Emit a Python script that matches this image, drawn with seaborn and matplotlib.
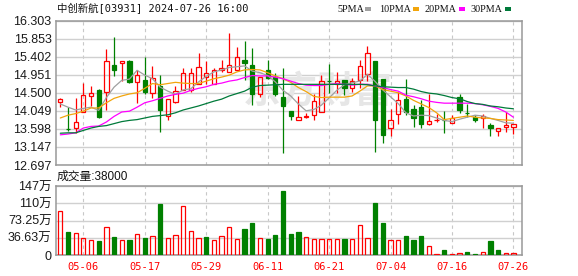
import matplotlib
matplotlib.use("Agg")
import matplotlib.pyplot as plt
import seaborn as sns
import pandas as pd
from matplotlib.patches import Rectangle

# ---------------- data ----------------
dates = ["04-30", "05-02", "05-03", "05-06", "05-07", "05-08", "05-09", "05-10", "05-13", "05-14",
         "05-16", "05-17", "05-20", "05-21", "05-22", "05-23", "05-24", "05-27", "05-28", "05-29",
         "05-30", "05-31", "06-03", "06-04", "06-05", "06-06", "06-07", "06-11", "06-12", "06-13",
         "06-14", "06-17", "06-18", "06-19", "06-20", "06-21", "06-24", "06-25", "06-26", "06-27",
         "06-28", "07-02", "07-03", "07-04", "07-05", "07-08", "07-09", "07-10", "07-11", "07-12",
         "07-15", "07-16", "07-17", "07-18", "07-19", "07-22", "07-23", "07-24", "07-25", "07-26"]

open_ = [14.27, 13.60, 13.62, 14.02, 14.41, 14.58, 14.53, 15.19, 15.23, 15.28,
         14.77, 14.81, 14.49, 14.67, 13.93, 14.27, 14.57, 14.58, 14.73, 14.89,
         14.73, 15.08, 15.02, 15.08, 15.31, 15.19, 14.46, 15.07, 14.90, 14.40,
         14.04, 13.82, 13.90, 13.94, 14.02, 14.80, 14.73, 14.81, 14.61, 14.82,
         14.96, 15.29, 14.84, 13.62, 13.96, 14.35, 14.09, 14.14, 13.71, 13.815,
         13.83, 13.74, 14.40, 14.00, 13.89, 13.86, 13.70, 13.54, 13.64, 13.64]
high = [14.38, 14.14, 14.36, 14.75, 14.67, 14.59, 15.58, 15.88, 15.30, 15.31,
        15.06, 15.39, 15.18, 14.94, 14.35, 14.67, 15.11, 15.13, 15.48, 15.28,
        15.11, 15.31, 16.00, 15.63, 15.78, 15.61, 14.90, 15.31, 15.00, 15.11,
        14.05, 14.41, 14.00, 14.46, 14.94, 15.21, 15.03, 14.81, 14.88, 15.31,
        15.67, 15.30, 14.85, 14.10, 14.53, 14.85, 14.19, 14.33, 14.48, 13.96,
        14.04, 13.94, 14.46, 14.23, 13.94, 13.96, 13.74, 13.62, 14.02, 13.72]
low = [14.14, 13.54, 13.50, 14.01, 14.17, 13.87, 14.08, 14.92, 14.79, 14.74,
       14.25, 14.46, 14.38, 13.51, 13.83, 14.24, 14.56, 14.53, 14.72, 14.73,
       14.71, 15.03, 15.01, 15.08, 14.81, 14.19, 14.40, 14.85, 14.41, 13.00,
       13.82, 13.81, 13.86, 13.83, 14.01, 14.50, 14.50, 14.44, 14.53, 14.63,
       14.79, 13.01, 13.24, 13.42, 13.71, 13.94, 13.64, 13.61, 13.70, 13.76,
       13.50, 13.735, 14.00, 13.90, 13.77, 13.62, 13.41, 13.42, 13.52, 13.48]
close = [14.34, 13.585, 13.77, 14.44, 14.49, 13.89, 15.29, 15.08, 15.29, 14.77,
         14.94, 14.51, 14.88, 14.08, 14.34, 14.54, 14.99, 15.00, 15.14, 15.00,
         15.07, 15.13, 15.19, 15.38, 15.24, 14.48, 14.89, 14.88, 14.48, 14.16,
         13.93, 13.89, 13.91, 14.29, 14.79, 14.79, 14.79, 14.63, 14.79, 15.17,
         15.50, 13.82, 13.44, 13.81, 14.33, 14.01, 13.87, 13.72, 13.79, 13.825,
         13.82, 13.87, 14.08, 13.99, 13.82, 13.92, 13.63, 13.62, 13.70, 13.72]

ma5 = [14.22, 14.14, 14.07, 14.11, 14.14, 14.06, 14.38, 14.64, 14.81, 14.84,
       15.06, 14.94, 14.85, 14.64, 14.54, 14.46, 14.57, 14.60, 14.77, 14.91,
       15.02, 15.07, 15.13, 15.15, 15.17, 15.04, 15.00, 14.93, 14.77, 14.56,
       14.42, 14.22, 14.05, 14.08, 14.19, 14.37, 14.56, 14.70, 14.75, 14.79,
       14.96, 14.78, 14.57, 14.40, 14.23, 14.00, 13.92, 13.94, 13.93, 13.87,
       13.81, 13.78, 13.84, 13.89, 13.94, 13.92, 13.86, 13.81, 13.75, 13.74]
ma10 = [13.87, 13.94, 13.98, 14.04, 14.12, 14.12, 14.25, 14.36, 14.42, 14.47,
        14.50, 14.61, 14.73, 14.70, 14.73, 14.76, 14.74, 14.73, 14.73, 14.79,
        14.85, 14.89, 14.94, 15.02, 15.07, 15.08, 15.07, 15.00, 14.92, 14.85,
        14.76, 14.63, 14.53, 14.41, 14.38, 14.39, 14.39, 14.39, 14.42, 14.54,
        14.67, 14.67, 14.58, 14.54, 14.50, 14.42, 14.31, 14.22, 14.13, 14.00,
        13.83, 13.86, 13.89, 13.92, 13.89, 13.87, 13.86, 13.83, 13.82, 13.81]
ma20 = [13.45, 13.47, 13.50, 13.62, 13.66, 13.67, 13.77, 13.91, 14.02, 14.04,
        14.14, 14.25, 14.30, 14.36, 14.42, 14.46, 14.49, 14.56, 14.61, 14.65,
        14.71, 14.74, 14.79, 14.82, 14.88, 14.93, 14.92, 14.92, 14.89, 14.85,
        14.79, 14.73, 14.69, 14.68, 14.68, 14.71, 14.73, 14.71, 14.69, 14.71,
        14.71, 14.67, 14.63, 14.58, 14.54, 14.44, 14.40, 14.35, 14.29, 14.26,
        14.24, 14.24, 14.24, 14.24, 14.23, 14.20, 14.16, 14.11, 14.02, 13.89]
ma30 = [13.49, 13.50, 13.50, 13.56, 13.62, 13.66, 13.68, 13.73, 13.78, 13.81,
        13.83, 13.87, 13.91, 13.93, 13.95, 14.00, 14.07, 14.12, 14.17, 14.23,
        14.29, 14.34, 14.42, 14.48, 14.54, 14.64, 14.68, 14.69, 14.70, 14.71,
        14.71, 14.71, 14.71, 14.71, 14.71, 14.71, 14.71, 14.71, 14.71, 14.71,
        14.70, 14.67, 14.65, 14.64, 14.63, 14.63, 14.59, 14.53, 14.49, 14.47,
        14.43, 14.38, 14.35, 14.28, 14.23, 14.21, 14.17, 14.15, 14.12, 14.10]

# volume in 万 (10k shares)
volume = [93.4, 49.5, 46.0, 35.4, 31.8, 29.7, 58.7, 38.2, 31.8, 31.8,
          44.6, 36.1, 39.6, 108.3, 35.4, 41.8, 105.4, 51.0, 35.4, 38.2,
          31.8, 39.6, 59.4, 33.3, 55.2, 67.9, 35.4, 34.0, 42.5, 135.9,
          44.6, 48.8, 37.5, 33.3, 34.7, 34.7, 34.7, 33.3, 34.7, 63.0,
          35.4, 110.4, 67.9, 31.1, 31.1, 39.6, 31.8, 40.3, 18.4, 2.5,
          10.6, 2.5, 3.5, 6.4, 2.0, 5.7, 29.7, 10.6, 3.5, 3.8]
vol_dir = list("RGRRRGRGRGRGRGRRRRRGRRRRGGRGGGGGRRRRRGRRRGGRRGGGRRGRRGGRGGRR")

x_tick_labels = ["05-06", "05-17", "05-29", "06-11", "06-21", "07-04", "07-16", "07-26"]
price_ticks = [16.303, 15.853, 15.402, 14.951, 14.500, 14.049, 13.598, 13.147, 12.697]
vol_ticks = [0, 36.63, 73.25, 110, 147]
vol_tick_labels = ["0", "36.63万", "73.25万", "110万", "147万"]
ma_names = ["5PMA", "10PMA", "20PMA", "30PMA"]
ma_colors = ["#a0a0a0", "#f2a50c", "#ff00ff", "#007a3a"]

# ---------------- style ----------------
sns.set_style("white")
plt.rcParams["font.family"] = ["Liberation Sans", "Noto Sans CJK SC", "DejaVu Sans"]

RED = "#ff0000"
GREEN = "#008000"
W, H = 578, 276
fig = plt.figure(figsize=(W / 100, H / 100), dpi=100)
fig.patch.set_facecolor("white")

left, right = 55.7, 522.3
axp = fig.add_axes([left / W, 1 - 165 / H, (right - left) / W, (165 - 20.5) / H])
axv = fig.add_axes([left / W, 1 - 255 / H, (right - left) / W, 69 / H])

n = len(dates)
idx = list(range(n))
tick_pos = [dates.index(d) for d in x_tick_labels]

# watermark
axp.text(318 / W, 1 - 92 / H, "东方财富", transform=fig.transFigure, ha="center", va="center",
         fontsize=27, fontweight="bold", color="#e6e6e6", family=["Noto Sans CJK SC"], zorder=0.6)

# candles
BW = 0.56
for i in idx:
    o, h, l, c = open_[i], high[i], low[i], close[i]
    if c >= o:
        top, bot = c, o
        axp.vlines(i, top, h, color=RED, lw=0.9, zorder=3)
        axp.vlines(i, l, bot, color=RED, lw=0.9, zorder=3)
        axp.bar(i, max(top - bot, 0.004), bottom=bot, width=BW, facecolor="none",
                edgecolor=RED, linewidth=0.9, zorder=3)
    else:
        axp.vlines(i, l, h, color=GREEN, lw=0.9, zorder=3)
        axp.bar(i, max(o - c, 0.004), bottom=c, width=BW, facecolor=GREEN,
                edgecolor=GREEN, linewidth=0.9, zorder=3)

# moving averages via seaborn
ma_df = pd.DataFrame({
    "idx": idx * 4,
    "value": ma5 + ma10 + ma20 + ma30,
    "ma": sum([[nm] * n for nm in ma_names], []),
})
sns.lineplot(data=ma_df, x="idx", y="value", hue="ma", palette=dict(zip(ma_names, ma_colors)),
             hue_order=ma_names, linewidth=0.9, legend=False, ax=axp, zorder=4)

# volume
for i in idx:
    if vol_dir[i] == "R":
        axv.bar(i, volume[i], width=BW, facecolor="none", edgecolor=RED, linewidth=0.9, zorder=3)
    else:
        axv.bar(i, volume[i], width=BW, facecolor=GREEN, edgecolor=GREEN, linewidth=0.9, zorder=3)

for ax in (axp, axv):
    ax.set_xlim(-0.6, 60.16)
    ax.set_xticks(tick_pos)
    ax.set_xlabel("")
    ax.set_ylabel("")
    ax.set_axisbelow(True)
    ax.grid(axis="x", color="#c8c8c8", linestyle=(0, (3, 3)), linewidth=0.8)
    ax.grid(axis="y", color="#d0d0d0", linestyle="-", linewidth=1.0)
    for s in ax.spines.values():
        s.set_color("#999999")
        s.set_linewidth(1.1)
        s.set_visible(True)
    ax.tick_params(length=0, pad=3, labelsize=9, labelcolor="#1a1a1a")

axp.set_ylim(12.697, 16.303)
axp.set_yticks(price_ticks)
axp.set_yticklabels([f"{t:.3f}" for t in price_ticks])
axp.set_xticklabels([])

axv.set_ylim(0, 147)
axv.set_yticks(vol_ticks)
axv.set_yticklabels(vol_tick_labels)
axv.set_xticklabels(x_tick_labels, color=RED, family=["DejaVu Sans Mono"], fontsize=7.5)
axv.tick_params(axis="x", pad=5)

# header texts
fig.text(57 / W, 1 - 8.5 / H, "中创新航[03931] 2024-07-26 16:00", ha="left", va="center",
         fontsize=7.5, family=["DejaVu Sans Mono", "Noto Sans CJK SC"], color="#111111")
fig.text(57 / W, 1 - 177 / H, "成交量:38000", ha="left", va="center",
         fontsize=8.5, family=["Liberation Sans", "Noto Sans CJK SC"], color="#111111")

leg_x = [337.5, 379.0, 424.7, 470.7]
sq_x = [365.3, 413.3, 459.3, 505.0]
for nm, col, tx, sx in zip(ma_names, ma_colors, leg_x, sq_x):
    fig.text(tx / W, 1 - 9.3 / H, nm, ha="left", va="center", fontsize=7.3,
             family=["Liberation Serif"], color="#111111")
    fig.add_artist(Rectangle((sx / W, 1 - 11 / H), 5.7 / W, 3.8 / H, transform=fig.transFigure,
                             facecolor=col, edgecolor="none"))

fig.savefig("out.png", dpi=100, facecolor="white")
